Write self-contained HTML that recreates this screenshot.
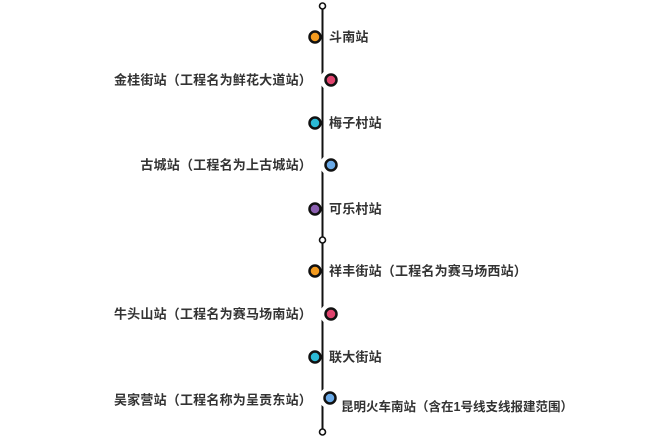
<!DOCTYPE html>
<html><head><meta charset="utf-8"><style>
html,body{margin:0;padding:0;background:#fff;width:670px;height:438px;overflow:hidden}
text{font-family:"Liberation Sans","Noto Sans CJK SC",sans-serif;font-size:13px;letter-spacing:0.2px;font-weight:bold;fill:#333;dominant-baseline:central}
</style></head><body>
<svg width="670" height="438" viewBox="0 0 670 438">
<line x1="322.5" y1="9" x2="322.5" y2="429" stroke="#111" stroke-width="2"/>
<g stroke="#fff" stroke-width="10" fill="#fff">
<circle cx="331" cy="80" r="6"/><circle cx="331" cy="165" r="6"/><circle cx="331" cy="314" r="6"/><circle cx="330" cy="398" r="6"/>
</g>
<g stroke="#111" stroke-width="1.6" fill="#fff">
<circle cx="322.5" cy="6" r="3"/><circle cx="322.5" cy="240" r="3"/><circle cx="322.5" cy="432" r="3"/>
</g>
<g stroke="#111" stroke-width="2.5">
<circle cx="315" cy="37" r="5.5" fill="#f39a1e"/>
<circle cx="331" cy="80" r="5.5" fill="#e0446e"/>
<circle cx="315" cy="123" r="5.5" fill="#2bbad6"/>
<circle cx="331" cy="165" r="5.5" fill="#6aaae8"/>
<circle cx="315" cy="209" r="5.5" fill="#8b5fb0"/>
<circle cx="315" cy="271" r="5.5" fill="#f39a1e"/>
<circle cx="331" cy="314" r="5.5" fill="#e0446e"/>
<circle cx="315" cy="357" r="5.5" fill="#2bbad6"/>
<circle cx="330" cy="398" r="5.5" fill="#6aaae8"/>
</g>
<text x="329" y="37">斗南站</text>
<text x="312" y="80" text-anchor="end">金桂街站（工程名为鲜花大道站）</text>
<text x="329" y="123">梅子村站</text>
<text x="312" y="165" text-anchor="end">古城站（工程名为上古城站）</text>
<text x="329" y="209">可乐村站</text>
<text x="329" y="271">祥丰街站（工程名为赛马场西站）</text>
<text x="312" y="314" text-anchor="end">牛头山站（工程名为赛马场南站）</text>
<text x="329" y="357">联大街站</text>
<text x="312" y="400" text-anchor="end">吴家营站（工程名称为呈贡东站）</text>
<text x="341" y="407" style="font-size:12.5px;letter-spacing:0">昆明火车南站（含在1号线支线报建范围）</text>
</svg>
</body></html>
